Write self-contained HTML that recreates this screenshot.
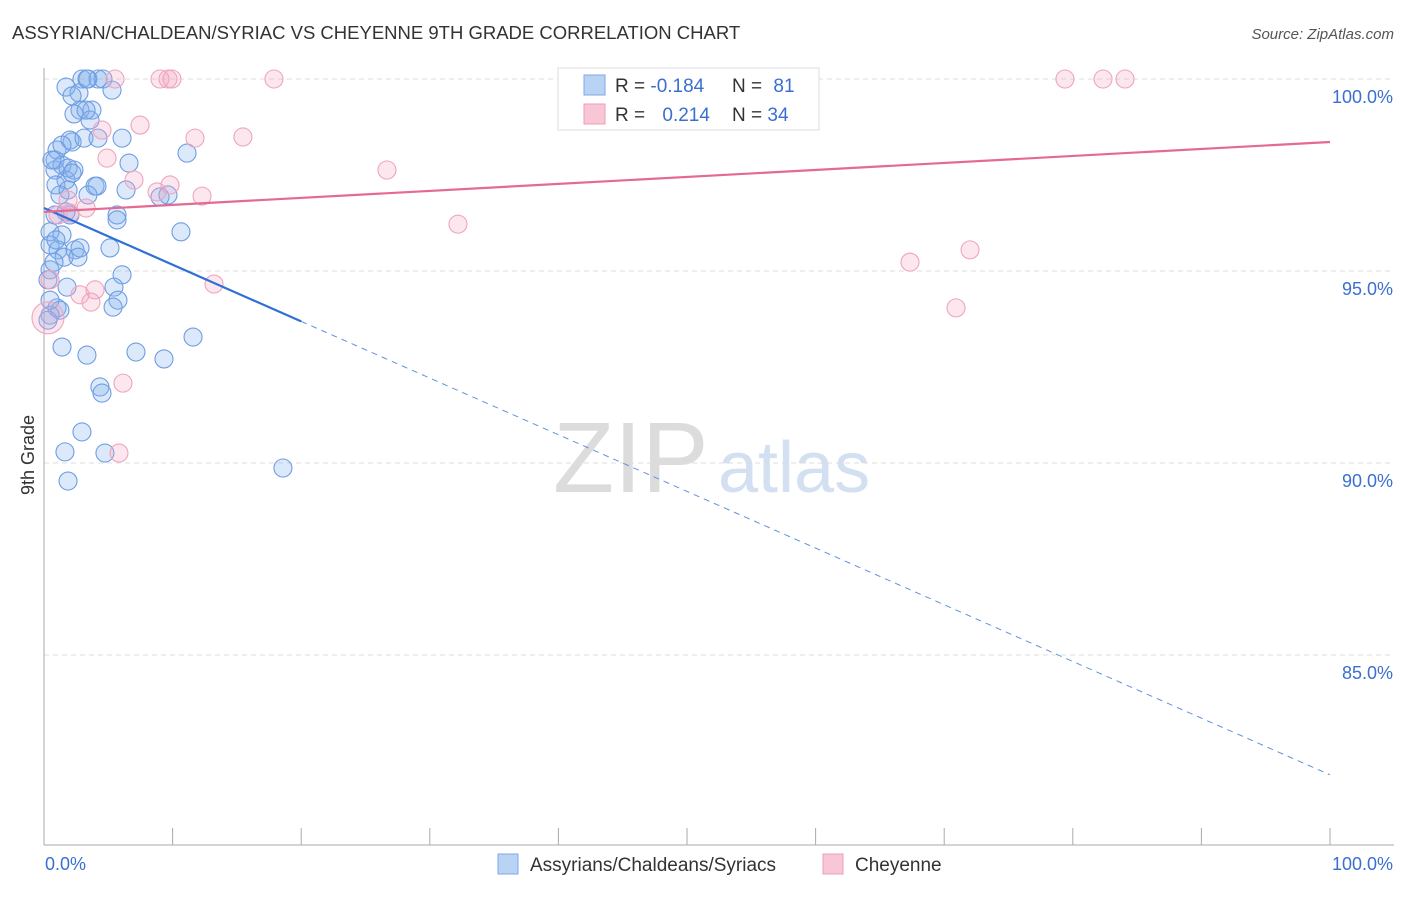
<!DOCTYPE html>
<html><head><meta charset="utf-8"><style>
body{margin:0;background:#fff;font-family:"Liberation Sans",sans-serif;}
svg text{font-family:"Liberation Sans",sans-serif;}
</style></head><body>
<svg id="chart" width="1406" height="892">
<text x="12" y="39" font-size="18.5" fill="#333">ASSYRIAN/CHALDEAN/SYRIAC VS CHEYENNE 9TH GRADE CORRELATION CHART</text>
<text x="1394" y="39" font-size="15" fill="#555" text-anchor="end" font-style="italic">Source: ZipAtlas.com</text>
<g>
<text x="553" y="492" font-size="100" fill="#dcdcdc" font-family="Liberation Serif,serif">ZIP</text>
<text x="718" y="492" font-size="72" fill="#d3e0f2">atlas</text>
</g>
<g id="grid"></g>
<g id="axes"></g>
<g id="points"></g>
<g id="trends"></g>
<text transform="translate(34,455) rotate(-90)" font-size="18" fill="#333" text-anchor="middle">9th Grade</text>
<g>
<rect x="558" y="68" width="261" height="62" fill="#fff" stroke="#ddd"/>
<rect x="584" y="75" width="21" height="20" fill="#b9d3f5" stroke="#7fa9e6"/>
<rect x="584" y="104" width="21" height="20" fill="#f9c6d6" stroke="#ec9fb8"/>
<text x="615" y="92" font-size="19" fill="#333">R = <tspan fill="#3a6fd0">-0.184</tspan></text>
<text x="732" y="92" font-size="19" fill="#333">N = <tspan fill="#3a6fd0" dx="6">81</tspan></text>
<text x="615" y="121" font-size="19" fill="#333">R = <tspan fill="#3a6fd0" dx="12">0.214</tspan></text>
<text x="732" y="121" font-size="19" fill="#333">N = <tspan fill="#3a6fd0">34</tspan></text>
</g>
<g>
<rect x="498" y="854" width="20" height="20" fill="#b9d3f5" stroke="#7fa9e6"/>
<text x="530" y="871" font-size="19" fill="#333">Assyrians/Chaldeans/Syriacs</text>
<rect x="823" y="854" width="20" height="20" fill="#f9c6d6" stroke="#ec9fb8"/>
<text x="855" y="871" font-size="19" fill="#333">Cheyenne</text>
</g>
</svg>
<script>
const yTicks=[100,95,90,85];
const yTickLabels=["100.0%","95.0%","90.0%","85.0%"];
const xTickLabels=["0.0%","100.0%"];
const blueX=[1.71,2.72,2.95,3.42,4.2,4.59,3.34,5.29,2.8,3.73,2.33,3.58,6.07,2.18,2.02,3.11,4.2,1.01,0.86,1.4,2.33,0.86,1.71,3.97,4.12,6.61,11.12,6.38,1.24,3.42,9.02,9.64,5.68,5.68,0.86,2.02,0.47,1.4,10.65,0.47,1.09,2.41,2.8,5.13,1.56,2.64,0.47,6.07,0.31,1.79,5.44,5.75,5.37,1.01,1.24,0.47,0.31,1.4,3.34,7.15,9.33,11.59,4.35,4.51,2.95,1.63,4.74,1.87,18.58,0.62,1.87,2.18,0.93,1.71,0.47,0.78,3.27,2.18,1.4,0.93,1.87];
const blueY=[99.79,99.64,100,100,100,100,100,99.71,99.19,99.19,99.09,98.93,98.46,98.36,98.41,98.46,98.46,98.15,97.89,97.76,97.63,97.63,97.37,97.21,97.21,97.81,98.07,97.11,96.98,96.98,96.93,96.98,96.46,96.33,96.46,96.46,96.02,95.94,96.02,95.68,95.55,95.55,95.6,95.6,95.36,95.36,95.03,94.9,94.77,94.58,94.58,94.24,94.06,94.04,93.98,93.85,93.72,93.02,92.81,92.89,92.71,93.28,91.98,91.82,90.81,90.29,90.26,89.53,89.87,97.89,97.68,97.55,95.81,96.54,94.24,95.23,99.19,99.56,98.28,97.24,97.11];
const pinkX=[5.52,9.02,9.64,9.95,17.88,79.39,82.35,84.06,7.47,11.74,15.47,4.51,4.9,7.0,8.79,9.8,12.29,26.67,32.19,1.09,2.02,3.27,1.87,67.34,72.01,70.92,13.22,2.8,3.97,3.65,6.14,5.83,0.31,0.47];
const pinkY=[100,100,100,100,100,100,100,100,98.8,98.46,98.49,98.67,97.94,97.37,97.06,97.24,96.95,97.63,96.22,96.46,96.51,96.64,96.85,95.23,95.55,94.04,94.66,94.38,94.51,94.19,92.08,90.26,93.78,94.77];
const blueTrend=[96.64,81.88];
const pinkTrend=[96.54,98.36];
const blueSolidEnd=20;
const NS="http://www.w3.org/2000/svg";
const X=v=>44+v*12.86;
const Y=v=>79+(100-v)*38.4;
function mk(tag,attrs,parent){const e=document.createElementNS(NS,tag);for(const k in attrs)e.setAttribute(k,attrs[k]);parent.appendChild(e);return e;}
const grid=document.getElementById('grid'),axes=document.getElementById('axes');
yTicks.forEach((t,i)=>{
 const l=mk('line',{x1:44,x2:1394,y1:Y(t),y2:Y(t),stroke:'#ddd','stroke-dasharray':'5,4'},grid);
 
 
 const tx=mk('text',{x:1393,y:Y(t)+24,'font-size':18,fill:'#3a6fd0','text-anchor':'end'},axes);
 tx.textContent=yTickLabels[i];
 
 
});
const ya=mk('line',{x1:44,x2:44,y1:68,y2:845,stroke:'#aaa'},axes);


const xa=mk('line',{x1:44,x2:1394,y1:845,y2:845,stroke:'#aaa'},axes);


for(let i=0;i<=10;i++){const t=mk('line',{x1:X(i*10),x2:X(i*10),y1:828,y2:845,stroke:'#aaa'},axes);
 
 }
[[0,'start',45],[100,'end',1393]].forEach((a,i)=>{const t=mk('text',{x:a[2],y:870,'font-size':18,fill:'#3a6fd0','text-anchor':a[1]},axes);t.textContent=xTickLabels[i];
 
 });
const pts=document.getElementById('points');
blueX.forEach((x,i)=>{const c=mk('circle',{cx:X(x),cy:Y(blueY[i]),r:9,fill:'rgba(130,175,238,0.28)',stroke:'#6f9de3','stroke-width':1.1},pts);
 
 });
pinkX.forEach((x,i)=>{const c=mk('circle',{cx:X(x),cy:Y(pinkY[i]),r:(i==32?16:9),fill:'rgba(244,170,196,0.28)',stroke:'#eea5bd','stroke-width':1.1},pts);
 
 });
const tr=document.getElementById('trends');
const by=x=>blueTrend[0]+(blueTrend[1]-blueTrend[0])*x/100;
const py=x=>pinkTrend[0]+(pinkTrend[1]-pinkTrend[0])*x/100;
let l=mk('line',{x1:X(0),y1:Y(by(0)),x2:X(blueSolidEnd),y2:Y(by(blueSolidEnd)),stroke:'#2f6fd6','stroke-width':2.2},tr);


l=mk('line',{x1:X(blueSolidEnd),y1:Y(by(blueSolidEnd)),x2:X(100),y2:Y(by(100)),stroke:'#5f92df','stroke-width':1,'stroke-dasharray':'6,5'},tr);


l=mk('line',{x1:X(0),y1:Y(py(0)),x2:X(100),y2:Y(py(100)),stroke:'#e56a93','stroke-width':2.2},tr);


</script>
</body></html>
